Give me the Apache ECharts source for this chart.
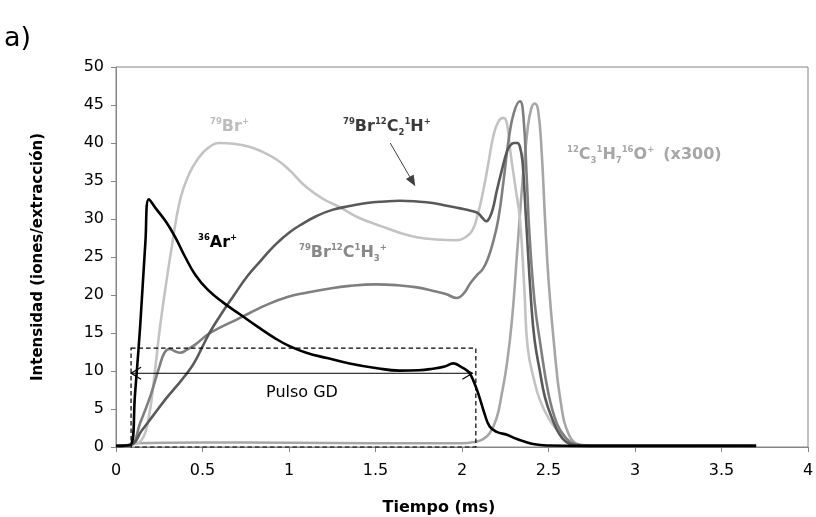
<!DOCTYPE html>
<html><head><meta charset="utf-8">
<script src="https://cdn.jsdelivr.net/npm/echarts@6/dist/echarts.min.js"></script>
<style>html,body{margin:0;padding:0;background:#fff}#c{width:816px;height:517px}</style>
</head><body><div id="c"></div>
<script>
// ---- data (time in ms, intensity in ions/extraction) ----
const arData = [[0,0.15],[0.085,0.3],[0.11,7],[0.14,16],[0.17,27],[0.19,32.6],[0.23,31.4],[0.29,29.6],[0.34,27.7],[0.4,25],[0.46,22.6],[0.53,20.7],[0.62,19],[0.72,17.4],[0.82,15.8],[0.92,14.3],[1.0,13.3],[1.1,12.4],[1.22,11.7],[1.35,11],[1.5,10.4],[1.64,10.05],[1.75,10.1],[1.83,10.3],[1.9,10.6],[1.95,11],[1.99,10.6],[2.04,9.8],[2.07,8.5],[2.1,6.6],[2.13,4.4],[2.16,2.7],[2.2,2.0],[2.26,1.6],[2.3,1.2],[2.35,0.8],[2.42,0.35],[2.5,0.2],[2.7,0.15],[3.7,0.15]];
const brData = [[0,0.15],[0.085,0.3],[0.15,1],[0.19,4],[0.22,9],[0.25,15],[0.28,20],[0.32,26],[0.37,32.5],[0.42,35.8],[0.47,37.8],[0.53,39.3],[0.6,40],[0.68,39.9],[0.77,39.5],[0.85,38.8],[0.93,37.8],[1.0,36.5],[1.1,34.2],[1.2,32.6],[1.29,31.6],[1.4,30.2],[1.54,29],[1.64,28.2],[1.74,27.6],[1.85,27.3],[1.97,27.2],[2.02,27.6],[2.06,28.5],[2.09,30.5],[2.12,33.4],[2.15,37],[2.18,40.8],[2.21,42.8],[2.24,43.3],[2.26,42.5],[2.28,38.8],[2.31,34],[2.335,30],[2.36,21],[2.38,13],[2.42,8.5],[2.45,6.2],[2.5,3.8],[2.55,2.2],[2.6,1.0],[2.64,0.4],[2.7,0.2],[3.7,0.15]];
const brc2hData = [[0,0.15],[0.085,0.3],[0.15,2.2],[0.21,4],[0.29,6.4],[0.35,8],[0.4,9.4],[0.45,11],[0.5,13.2],[0.54,15],[0.6,17.2],[0.68,19.9],[0.76,22.5],[0.84,24.6],[0.92,26.6],[1.0,28.2],[1.08,29.4],[1.16,30.4],[1.25,31.2],[1.35,31.7],[1.45,32.1],[1.55,32.3],[1.64,32.4],[1.74,32.3],[1.83,32.1],[1.92,31.7],[1.99,31.4],[2.05,31.1],[2.09,30.8],[2.12,30.1],[2.14,29.7],[2.16,30.2],[2.18,31.5],[2.2,33.6],[2.23,36.4],[2.26,38.9],[2.28,39.7],[2.3,40],[2.32,40],[2.335,39.5],[2.35,37.5],[2.37,30],[2.4,19],[2.42,14],[2.45,10],[2.48,6.5],[2.52,3.8],[2.56,1.8],[2.6,0.7],[2.65,0.25],[2.75,0.15],[3.7,0.15]];
const brch3Data = [[0,0.15],[0.085,0.3],[0.14,3.2],[0.2,6.8],[0.25,10.5],[0.28,12.4],[0.31,12.9],[0.34,12.6],[0.37,12.4],[0.41,12.8],[0.46,13.5],[0.53,14.8],[0.6,15.7],[0.7,16.8],[0.77,17.6],[0.88,18.8],[1.0,19.8],[1.1,20.3],[1.22,20.8],[1.35,21.2],[1.5,21.4],[1.62,21.3],[1.74,21],[1.84,20.5],[1.91,20.1],[1.97,19.6],[2.01,20.2],[2.05,21.6],[2.09,22.7],[2.12,23.4],[2.15,24.8],[2.18,27],[2.21,30],[2.24,35],[2.27,40.5],[2.3,44],[2.335,45.5],[2.355,43.5],[2.375,35],[2.39,28],[2.42,19],[2.45,14],[2.5,7],[2.55,3],[2.6,1.2],[2.65,0.4],[2.75,0.15],[3.7,0.15]];
const c3h7oData = [[0,0.15],[0.085,0.3],[0.1,0.5],[0.5,0.6],[1.0,0.55],[1.5,0.5],[2.0,0.5],[2.08,0.7],[2.12,1.0],[2.16,1.8],[2.2,3.8],[2.23,7],[2.26,11],[2.29,17],[2.32,26],[2.35,35],[2.38,42],[2.4,44.5],[2.42,45.2],[2.44,44.3],[2.46,39],[2.48,30],[2.5,22],[2.53,14],[2.57,6],[2.62,1.5],[2.68,0.3],[2.75,0.2],[3.7,0.2]];
const pulseWindow = [0.087, 2.08];   // GD pulse start / end (ms)
const pulseBoxTop = 13;              // dashed box height (intensity)
const pulseArrowLevel = 9.7;
const pulseArrowEnd = 2.06;
const c2hArrow = [[1.585, 40], [1.73, 34.3]];

const FONT = '"DejaVu Sans", sans-serif';
const AXC = '#868686';
const chart = echarts.init(document.getElementById('c'), null, {renderer: 'canvas'});

function mk(name, data, color, z) {
  return {type: 'line', name, data, symbol: 'none', showSymbol: false, smooth: 0.45,
    lineStyle: {color, width: 2.6}, z, silent: true};
}

chart.setOption({
  animation: false,
  grid: {left: 116, right: 8, top: 67, bottom: 70, containLabel: false, outerBoundsMode: 'none',
    show: true, borderColor: AXC, borderWidth: 1, backgroundColor: 'transparent'},
  xAxis: {type: 'value', min: 0, max: 4, interval: 0.5,
    axisLine: {lineStyle: {color: AXC, width: 1}}, axisTick: {length: 5, lineStyle: {color: AXC}},
    axisLabel: {color: '#000', fontSize: 16, fontFamily: FONT, margin: 16},
    splitLine: {show: false},
    name: 'Tiempo (ms)', nameLocation: 'middle', nameGap: 53,
    nameTextStyle: {color: '#000', fontSize: 16, fontWeight: 'bold', fontFamily: FONT, padding: [0, 46, 0, 0]}},
  yAxis: {type: 'value', min: 0, max: 50, interval: 5,
    axisLine: {show: true, lineStyle: {color: AXC, width: 1}}, axisTick: {show: true, length: 5, lineStyle: {color: AXC}},
    axisLabel: {color: '#000', fontSize: 16, fontFamily: FONT, margin: 12},
    splitLine: {show: false},
    name: 'Intensidad (iones/extracción)', nameLocation: 'middle', nameGap: 70,
    nameTextStyle: {color: '#000', fontSize: 15, fontWeight: 'bold', fontFamily: FONT}},
  series: [
    mk('C3H7O+ (x300)', c3h7oData, '#a6a6a6', 2),
    mk('79Br+', brData, '#c3c3c3', 3),
    mk('79Br12C1H3+', brch3Data, '#7f7f7f', 4),
    mk('79Br12C2H+', brc2hData, '#595959', 5),
    mk('36Ar+', arData, '#000000', 6)
  ]
});

const P = (x, y) => chart.convertToPixel({gridIndex: 0}, [x, y]);
const rich = (c) => ({
  m: {fontSize: 16, fontWeight: 'bold', fill: c, fontFamily: FONT, lineHeight: 20},
  sp: {fontSize: 8.5, fontWeight: 'bold', fill: c, fontFamily: FONT, lineHeight: 11, verticalAlign: 'top'},
  sb: {fontSize: 8.5, fontWeight: 'bold', fill: c, fontFamily: FONT, lineHeight: 10, verticalAlign: 'bottom'},
  gap: {fontSize: 16, fill: c, fontFamily: FONT, lineHeight: 20, width: 9}
});
function label(text, x, y, c) {
  return {type: 'text', x, y, z: 50, style: {text, rich: rich(c), fill: c, verticalAlign: 'middle', align: 'left'}};
}

const [bx0, by0] = P(pulseWindow[0], 0);
const [bx1, by1] = P(pulseWindow[1], pulseBoxTop);
const [ax0, ay] = P(pulseWindow[0], pulseArrowLevel);
const [ax1] = P(pulseArrowEnd, pulseArrowLevel);
const [sx, sy] = P(c2hArrow[0][0], c2hArrow[0][1]);
const [tx, ty] = P(c2hArrow[1][0], c2hArrow[1][1]);
const len = Math.hypot(tx - sx, ty - sy), ux = (tx - sx) / len, uy = (ty - sy) / len;
const hl = 11, hw = 4.5;
const bxh = tx - ux * hl, byh = ty - uy * hl;

chart.setOption({
  graphic: [
    {type: 'text', x: 4, y: 39, style: {text: 'a)', fontSize: 27, fill: '#000', fontFamily: FONT, verticalAlign: 'middle'}},
    {type: 'rect', z: 40, shape: {x: bx0, y: by1, width: bx1 - bx0, height: by0 - by1},
      style: {fill: null, stroke: '#000', lineWidth: 1.2, lineDash: [4.5, 3]}},
    {type: 'line', z: 40, shape: {x1: ax0, y1: ay, x2: ax1, y2: ay}, style: {stroke: '#000', lineWidth: 1}},
    {type: 'polyline', z: 40, shape: {points: [[ax0 + 10, ay - 6], [ax0, ay], [ax0 + 10, ay + 6]]}, style: {stroke: '#000', fill: null, lineWidth: 1.2}},
    {type: 'polyline', z: 40, shape: {points: [[ax1 - 10, ay - 6], [ax1, ay], [ax1 - 10, ay + 6]]}, style: {stroke: '#000', fill: null, lineWidth: 1.2}},
    {type: 'text', z: 40, x: 302, y: 393, style: {text: 'Pulso GD', fontSize: 16, fill: '#000', fontFamily: FONT, align: 'center', verticalAlign: 'middle'}},
    {type: 'line', z: 40, shape: {x1: sx, y1: sy, x2: bxh, y2: byh}, style: {stroke: '#404040', lineWidth: 1}},
    {type: 'polygon', z: 40, shape: {points: [[tx, ty], [bxh - uy * hw, byh + ux * hw], [bxh + uy * hw, byh - ux * hw]]}, style: {fill: '#404040'}},
    label('{sp|79}{m|Br}{sp|+}', 210, 127, '#bdbdbd'),
    label('{sp|79}{m|Br}{sp|12}{m|C}{sb|2}{sp|1}{m|H}{sp|+}', 343, 127, '#3a3a3a'),
    label('{sp|36}{m|Ar}{sp|+}', 198, 243, '#000000'),
    label('{sp|79}{m|Br}{sp|12}{m|C}{sp|1}{m|H}{sb|3}{sp|+}', 299, 253, '#888888'),
    label('{sp|12}{m|C}{sb|3}{sp|1}{m|H}{sb|7}{sp|16}{m|O}{sp|+}{gap| }{m|(x300)}', 567, 155, '#a6a6a6')
  ]
});
</script>
</body></html>
